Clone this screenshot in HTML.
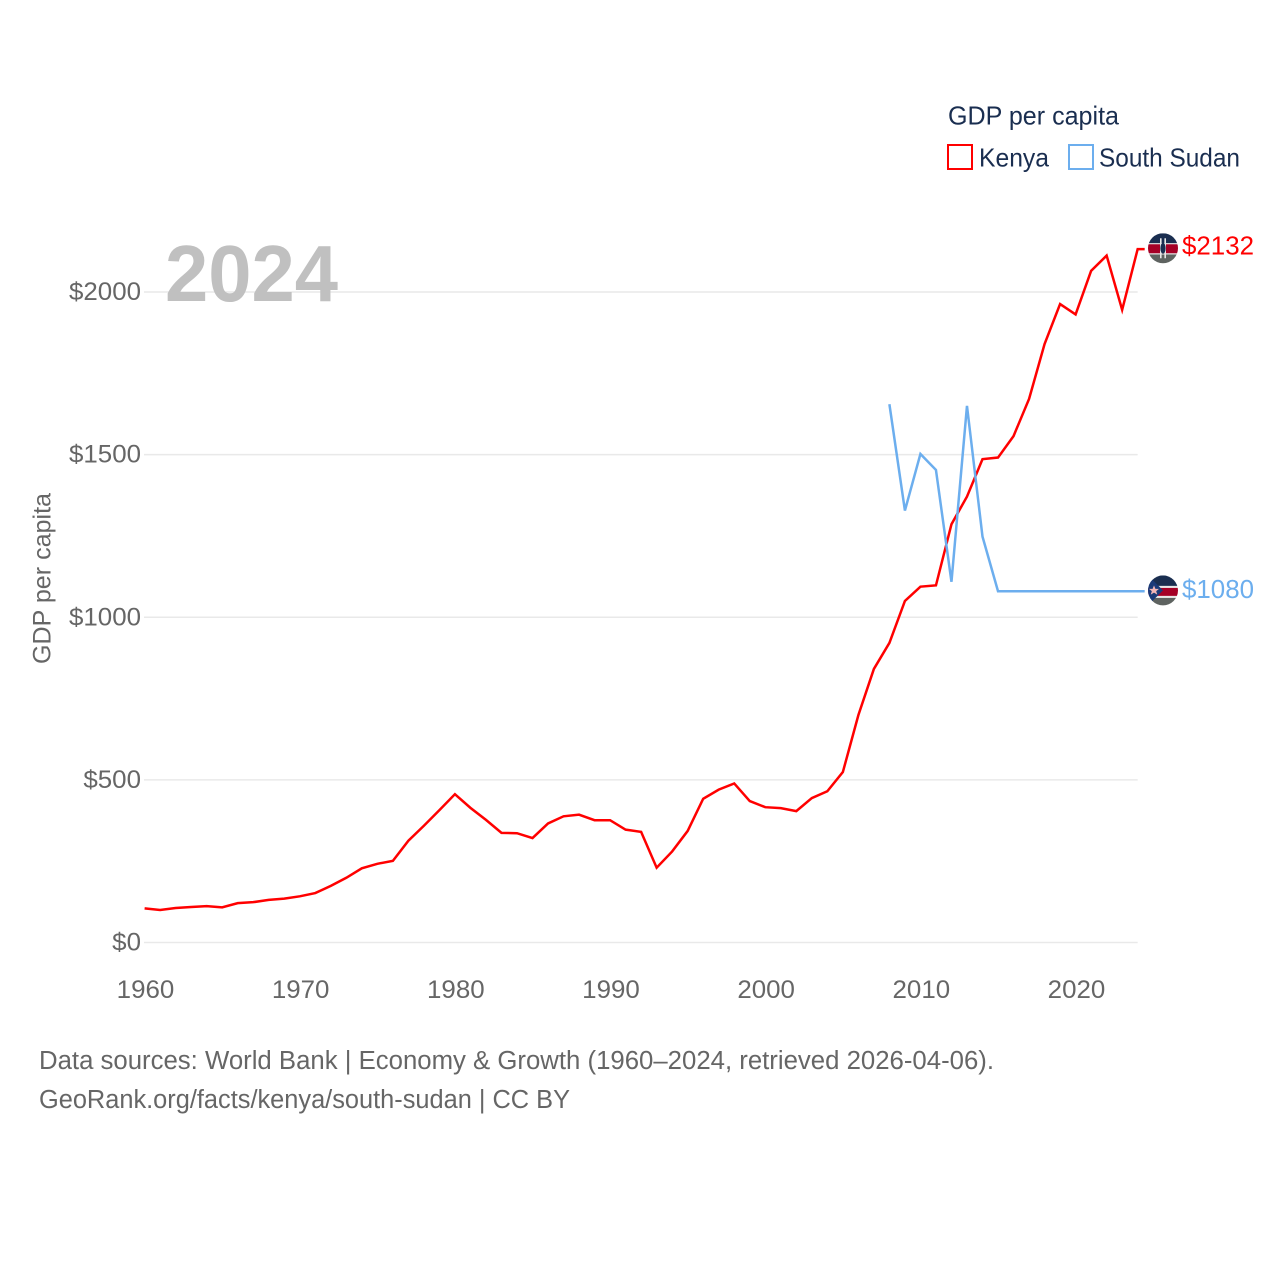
<!DOCTYPE html>
<html lang="en">
<head>
<meta charset="utf-8">
<title>GDP per capita: Kenya and South Sudan</title>
<style>
  html, body { margin: 0; padding: 0; background: #fff; }
  svg { display: block; font-family: "Liberation Sans", sans-serif; }
  .tick { font-size: 25px; fill: #666; }
  .legend { font-size: 26px; fill: #1a2e50; }
  .foot { font-size: 25.5px; fill: #666; }
</style>
</head>
<body>
<svg id="chart" width="1280" height="1280" viewBox="0 0 1280 1280" xmlns="http://www.w3.org/2000/svg">
  <g id="grid"></g>
  <g id="y-ticks"></g>
  <g id="x-ticks"></g>

  <text x="165" y="301" font-size="80" font-weight="700" fill="#c0c0c0" textLength="173" lengthAdjust="spacingAndGlyphs">2024</text>

  <text transform="translate(50.5,664) rotate(-90)" font-size="25" fill="#666" textLength="171" lengthAdjust="spacingAndGlyphs">GDP per capita</text>

  <g>
    <text class="legend" x="948" y="124.5" textLength="171" lengthAdjust="spacingAndGlyphs">GDP per capita</text>
    <rect x="948" y="145" width="24" height="24" fill="none" stroke="#ff0000" stroke-width="2"/>
    <text class="legend" x="979" y="166.5" textLength="70" lengthAdjust="spacingAndGlyphs">Kenya</text>
    <rect x="1069" y="145" width="24" height="24" fill="none" stroke="#6caeee" stroke-width="2"/>
    <text class="legend" x="1099" y="166.5" textLength="141" lengthAdjust="spacingAndGlyphs">South Sudan</text>
  </g>

  <g id="series"></g>

  <defs>
    <clipPath id="clip-ke"><circle cx="0" cy="0" r="15"/></clipPath>
    <clipPath id="clip-ss"><circle cx="0" cy="0" r="15"/></clipPath>
  </defs>

  <g id="flag-kenya">
    <g clip-path="url(#clip-ke)">
      <rect x="-15" y="-15" width="30" height="10" fill="#1a2e50"/>
      <rect x="-15" y="-5" width="30" height="1.5" fill="#e8e8e8"/>
      <rect x="-15" y="-4" width="30" height="9.5" fill="#a50026"/>
      <rect x="-15" y="5" width="30" height="1.6" fill="#e8e8e8"/>
      <rect x="-15" y="6.2" width="30" height="9" fill="#5e6360"/>
      <rect x="-3" y="-10" width="1.6" height="20" fill="#e8e8e8"/>
      <rect x="1.4" y="-10" width="1.6" height="20" fill="#e8e8e8"/>
      <ellipse cx="0" cy="0" rx="2.6" ry="5.5" fill="#1a2e50"/>
    </g>
  </g>
  <g id="flag-south-sudan">
    <g clip-path="url(#clip-ss)">
      <rect x="-15" y="-15" width="30" height="10.5" fill="#1a2e50"/>
      <rect x="-15" y="-4.5" width="30" height="2" fill="#e8e8e8"/>
      <rect x="-15" y="-2.5" width="30" height="8" fill="#a50026"/>
      <rect x="-15" y="5.5" width="30" height="2" fill="#e8e8e8"/>
      <rect x="-15" y="7.5" width="30" height="8" fill="#5e6360"/>
      <polygon points="-15,-15 0,0 -15,15" fill="#1a3a78"/>
      <polygon points="-9,-5 -7.6,-1.6 -4,-1.6 -6.8,0.7 -5.8,4.2 -9,2.2 -12.2,4.2 -11.2,0.7 -14,-1.6 -10.4,-1.6" fill="#f2b6b6"/>
    </g>
  </g>

  <text id="value-kenya" x="1182" font-size="25.5" fill="#ff0000" textLength="72" lengthAdjust="spacingAndGlyphs"></text>
  <text id="value-south-sudan" x="1182" font-size="25.5" fill="#6caeee" textLength="72" lengthAdjust="spacingAndGlyphs"></text>

  <text class="foot" x="39" y="1069" textLength="955" lengthAdjust="spacingAndGlyphs">Data sources: World Bank | Economy &amp; Growth (1960–2024, retrieved 2026-04-06).</text>
  <text class="foot" x="39" y="1108" textLength="531" lengthAdjust="spacingAndGlyphs">GeoRank.org/facts/kenya/south-sudan | CC BY</text>
</svg>

<script>
const years = [1960,1961,1962,1963,1964,1965,1966,1967,1968,1969,1970,1971,1972,1973,1974,1975,1976,1977,1978,1979,1980,1981,1982,1983,1984,1985,1986,1987,1988,1989,1990,1991,1992,1993,1994,1995,1996,1997,1998,1999,2000,2001,2002,2003,2004,2005,2006,2007,2008,2009,2010,2011,2012,2013,2014,2015,2016,2017,2018,2019,2020,2021,2022,2023,2024];
const kenyaValues = [105,100,106,109,112,108,121,124,131,135,142,152,174,199,228,242,251,313,359,407,456,414,377,337,336,321,366,388,393,376,376,347,340,230,280,343,442,470,489,435,416,413,404,444,465,524,699,841,921,1050,1094,1098,1286,1371,1486,1491,1557,1671,1840,1963,1931,2065,2112,1945,2132];
const southSudanYears = [2008,2009,2010,2011,2012,2013,2014,2015,2016,2017,2018,2019,2020,2021,2022,2023,2024];
const southSudanValues = [1655,1328,1502,1453,1109,1650,1248,1080,1080,1080,1080,1080,1080,1080,1080,1080,1080];
const yTickValues = [0,500,1000,1500,2000];
const xTickValues = [1960,1970,1980,1990,2000,2010,2020];

const NS = 'http://www.w3.org/2000/svg';
const xScale = function (year) { return 144.6 + (year - 1960) * (1075.6 - 144.6) / 60; };
const yScale = function (value) { return 942.5 - value * (942.5 - 292) / 2000; };
const LABEL_CHAR_WIDTH = 14.4;

function makeSvg(tag, parent) {
  const el = document.createElementNS(NS, tag);
  parent.appendChild(el);
  return el;
}

const gridGroup = document.getElementById('grid');
const yGroup = document.getElementById('y-ticks');
yTickValues.forEach(function (v) {
  const line = makeSvg('line', gridGroup);
  
  
  line.setAttribute('x1', 144);
  line.setAttribute('x2', xScale(2024));
  line.setAttribute('y1', yScale(v));
  line.setAttribute('y2', yScale(v));
  line.setAttribute('stroke', '#e9e9e9');
  line.setAttribute('stroke-width', '1.5');

  const label = makeSvg('text', yGroup);
  
  
  const txt = '$' + v;
  label.textContent = txt;
  label.setAttribute('class', 'tick');
  const w = txt.length * LABEL_CHAR_WIDTH;
  label.setAttribute('x', 141 - w);
  label.setAttribute('y', yScale(v) + 8);
  label.setAttribute('textLength', w);
  label.setAttribute('lengthAdjust', 'spacingAndGlyphs');
});

const xGroup = document.getElementById('x-ticks');
xTickValues.forEach(function (year) {
  const label = makeSvg('text', xGroup);
  
  
  const txt = String(year);
  label.textContent = txt;
  label.setAttribute('class', 'tick');
  const w = txt.length * LABEL_CHAR_WIDTH;
  label.setAttribute('x', xScale(year) + 0.9 - w / 2);
  label.setAttribute('y', 998);
  label.setAttribute('textLength', w);
  label.setAttribute('lengthAdjust', 'spacingAndGlyphs');
});

function seriesPoints(xs, ys) {
  const pts = xs.map(function (year, i) { return xScale(year).toFixed(2) + ',' + yScale(ys[i]).toFixed(2); });
  const lastX = xScale(xs[xs.length - 1]);
  const lastY = yScale(ys[ys.length - 1]);
  pts.push((lastX + 7).toFixed(2) + ',' + lastY.toFixed(2));
  return pts.join(' ');
}

const seriesGroup = document.getElementById('series');

const kenyaLine = makeSvg('polyline', seriesGroup);


kenyaLine.setAttribute('points', seriesPoints(years, kenyaValues));
kenyaLine.setAttribute('fill', 'none');
kenyaLine.setAttribute('stroke', '#ff0000');
kenyaLine.setAttribute('stroke-width', '2.5');

const southSudanLine = makeSvg('polyline', seriesGroup);


southSudanLine.setAttribute('points', seriesPoints(southSudanYears, southSudanValues));
southSudanLine.setAttribute('fill', 'none');
southSudanLine.setAttribute('stroke', '#6caeee');
southSudanLine.setAttribute('stroke-width', '2.5');

const kenyaLast = kenyaValues[kenyaValues.length - 1];
const southSudanLast = southSudanValues[southSudanValues.length - 1];
document.getElementById('flag-kenya').setAttribute('transform', 'translate(1163,' + (yScale(kenyaLast) - 0.8).toFixed(2) + ')');
document.getElementById('flag-south-sudan').setAttribute('transform', 'translate(1163,' + (yScale(southSudanLast) - 0.8).toFixed(2) + ')');
const valueKenya = document.getElementById('value-kenya');
valueKenya.textContent = '$' + kenyaLast;
valueKenya.setAttribute('y', (yScale(kenyaLast) + 5.6).toFixed(2));
const valueSouthSudan = document.getElementById('value-south-sudan');
valueSouthSudan.textContent = '$' + southSudanLast;
valueSouthSudan.setAttribute('y', (yScale(southSudanLast) + 6.8).toFixed(2));
</script>
</body>
</html>
